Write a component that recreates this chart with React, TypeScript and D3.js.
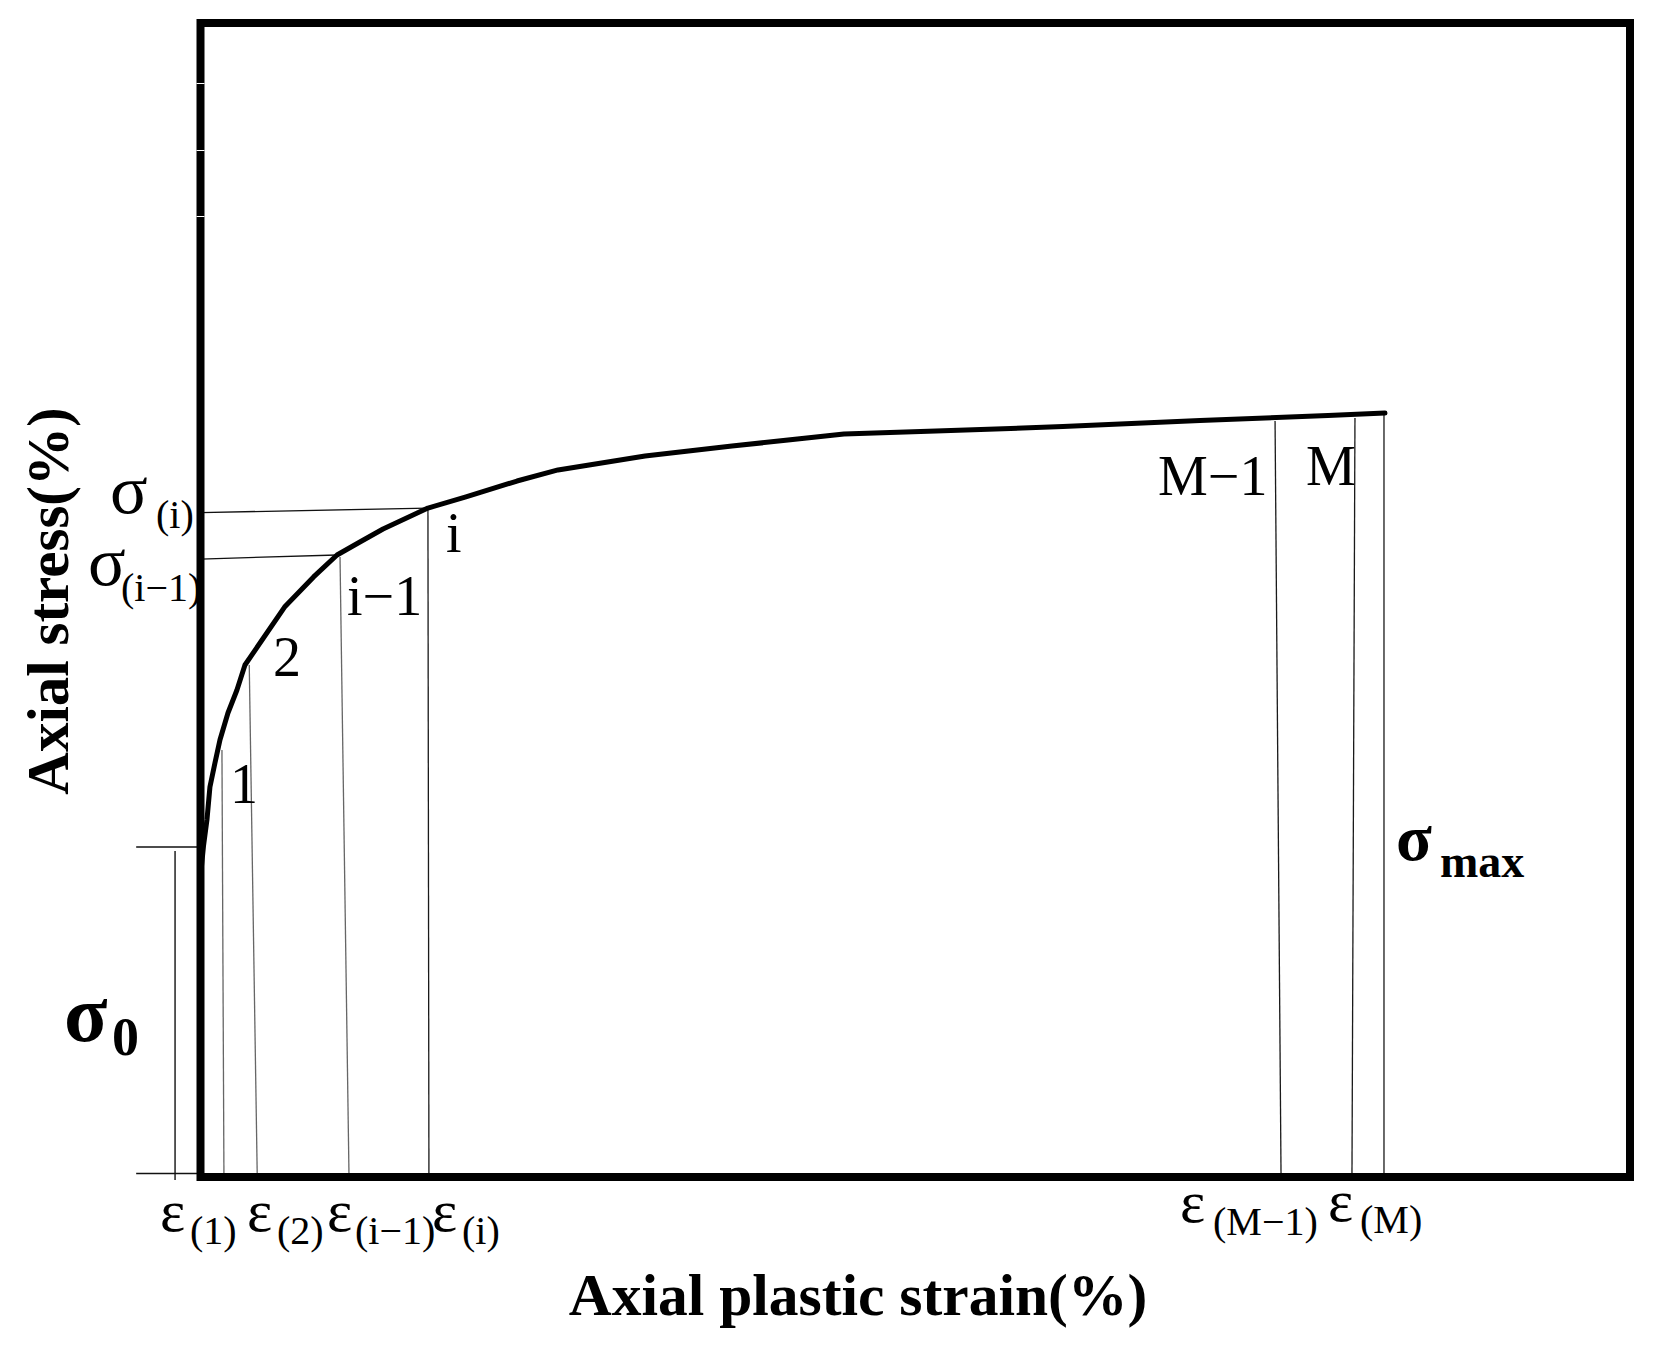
import React from 'react';
import * as d3 from 'd3';

const W = 1658;
const H = 1345;

// ---- data (frame-relative units: 0..100 on both axes) ----
const curveStrain = [0.07, 0.21, 0.45, 0.66, 1.01, 1.36, 1.92, 2.55, 3.11, 5.88, 7.91, 9.55, 11.15, 12.77, 15.91, 18.57, 22.14, 25.01, 31.1, 37.18, 41.1, 45.01, 51.45, 60.33, 69.92, 78.87, 82.86];
const curveStress = [26.95, 28.68, 30.94, 33.8, 35.88, 37.87, 40.21, 42.2, 44.37, 49.39, 52.0, 53.9, 55.03, 56.15, 57.97, 58.93, 60.31, 61.27, 62.48, 63.34, 63.86, 64.38, 64.64, 65.03, 65.55, 65.99, 66.2];

const guideNames = ['1', '2', 'i−1', 'i', 'M−1', 'M', 'max'];
const guideStrainTop = [1.5, 3.41, 9.76, 15.91, 75.17, 80.76, 82.79];
const guideStrainBottom = [1.64, 3.97, 10.39, 15.98, 75.59, 80.55, 82.79];
const guideStressTop = [37.0, 44.37, 53.73, 57.97, 65.51, 65.77, 66.12];
const guideShade = ['#666', '#666', '#666', '#1a1a1a', '#1a1a1a', '#1a1a1a', '#1a1a1a'];

const stressLineNames = ['(i)', '(i−1)'];
const stressLineLeft = [57.57, 53.55];
const stressLineStrainRight = [15.91, 9.55];
const stressLineRight = [57.97, 53.9];

const sigma0Stress = 28.6;
const tickStrainLeft = -4.5;
const sigma0BarStrain = -1.78;

const pointLabels = ['1', '2', 'i−1', 'i', 'M−1', 'M'];
const strainSubs = ['(1)', '(2)', '(i−1)', '(i)', '(M−1)', '(M)'];

// ---- layout (pixels) ----
const frame = { left: 200.5, right: 1630, top: 23, bottom: 1177 };
const pointLabelPos = [
  [230, 803], [273, 676], [347, 615], [446, 552], [1158, 495], [1306, 485],
];
const strainLabelPos = [
  [160, 1231, 190, 1244], [247, 1231, 277, 1244], [327, 1231, 355, 1244], [432, 1231, 462, 1244],
  [1180, 1222, 1213, 1235], [1328, 1221, 1360, 1233],
];
const stressLabelPos = [
  [110, 513, 156, 528], [88, 585, 121, 601],
];
const SERIF = '"Liberation Serif", "Times New Roman", Times, serif';

export default function App() {
  const x = d3.scaleLinear().domain([0, 100]).range([frame.left, frame.right]);
  const y = d3.scaleLinear().domain([0, 100]).range([frame.bottom, frame.top]);

  const pts = curveStrain.map((s, i) => [s, curveStress[i]] as [number, number]);
  const line = d3.line<[number, number]>().x(d => x(d[0])).y(d => y(d[1])).curve(d3.curveLinear);

  return (
    <svg width={W} height={H} style={{ position: 'absolute', left: 0, top: 0, background: '#fff' }} fontFamily={SERIF}>
      <rect x={0} y={0} width={W} height={H} fill="#fff" />

      {/* vertical guides */}
      {guideNames.map((n, i) => (
        <line key={'g' + n} x1={x(guideStrainTop[i])} y1={y(guideStressTop[i])} x2={x(guideStrainBottom[i])} y2={y(0)}
          stroke={guideShade[i]} strokeWidth={1.3} />
      ))}

      {/* horizontal stress lines */}
      {stressLineNames.map((n, i) => (
        <line key={'s' + n} x1={x(0)} y1={y(stressLineLeft[i])} x2={x(stressLineStrainRight[i])} y2={y(stressLineRight[i])}
          stroke="#111" strokeWidth={1.3} />
      ))}

      {/* sigma0 ticks outside the frame */}
      <line x1={x(tickStrainLeft)} x2={x(0)} y1={y(sigma0Stress)} y2={y(sigma0Stress)} stroke="#111" strokeWidth={1.4} />
      <line x1={x(tickStrainLeft)} x2={x(0)} y1={y(0.3)} y2={y(0.3)} stroke="#111" strokeWidth={1.4} />
      <line x1={x(sigma0BarStrain)} x2={x(sigma0BarStrain)} y1={y(sigma0Stress - 0.35)} y2={y(-0.25)} stroke="#111" strokeWidth={1.4} />

      {/* frame */}
      <rect x={frame.left} y={frame.top} width={frame.right - frame.left} height={frame.bottom - frame.top}
        fill="none" stroke="#000" strokeWidth={8} strokeLinejoin="miter" />
      {[83, 150, 216].map(v => (
        <rect key={'gap' + v} x={frame.left - 4} y={v} width={8} height={1} fill="#fff" />
      ))}

      {/* curve */}
      <path d={line(pts) || ''} fill="none" stroke="#000" strokeWidth={5} strokeLinejoin="round" strokeLinecap="round" />

      {/* point labels */}
      {pointLabels.map((t, i) => (
        <text key={'pl' + i} x={pointLabelPos[i][0]} y={pointLabelPos[i][1]} fontSize={56} fill="#000">{t}</text>
      ))}

      {/* strain labels */}
      {strainSubs.map((t, i) => (
        <g key={'el' + i}>
          <text x={strainLabelPos[i][0]} y={strainLabelPos[i][1]} fontSize={60} fill="#000">ε</text>
          <text x={strainLabelPos[i][2]} y={strainLabelPos[i][3]} fontSize={40} fill="#000">{t}</text>
        </g>
      ))}

      {/* stress labels */}
      {stressLineNames.map((t, i) => (
        <g key={'sl' + i}>
          <text x={stressLabelPos[i][0]} y={stressLabelPos[i][1]} fontSize={70} fill="#000">σ</text>
          <text x={stressLabelPos[i][2]} y={stressLabelPos[i][3]} fontSize={40} fill="#000">{t}</text>
        </g>
      ))}

      {/* sigma0 & sigma max */}
      <text x={64} y={1041} fontSize={80} fontWeight="bold" fill="#000">σ</text>
      <text x={112} y={1055} fontSize={54} fontWeight="bold" fill="#000">0</text>
      <text x={1396} y={860} fontSize={66} fontWeight="bold" fill="#000">σ</text>
      <text x={1440} y={877} fontSize={46} fontWeight="bold" fill="#000">max</text>

      {/* axis titles */}
      <text x={858} y={1315} fontSize={59.5} fontWeight="bold" textAnchor="middle" fill="#000">Axial plastic strain(%)</text>
      <text transform="translate(68,601) rotate(-90)" fontSize={59} fontWeight="bold" textAnchor="middle" fill="#000">Axial stress(%)</text>
    </svg>
  );
}
